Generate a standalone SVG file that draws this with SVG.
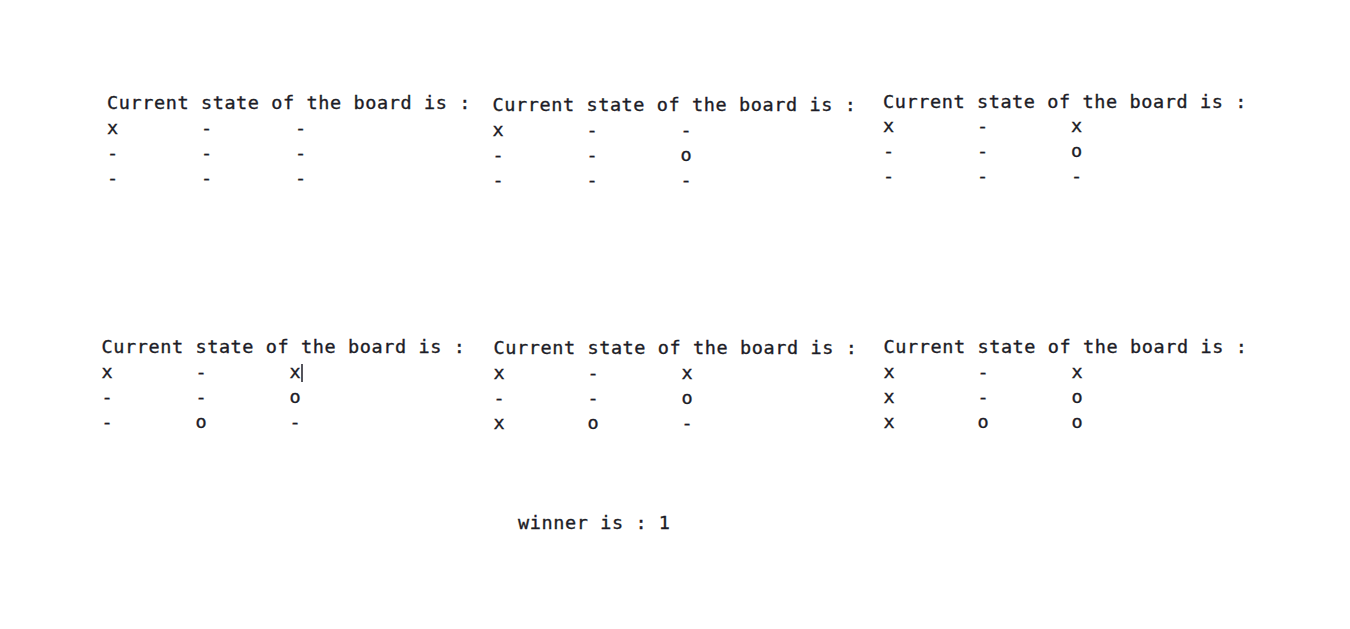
<svg xmlns="http://www.w3.org/2000/svg" width="1350" height="629" viewBox="0 0 1350 629">
<style>
text{font-family:"DejaVu Sans Mono","Liberation Mono",monospace;font-size:18.5px;letter-spacing:0.6px;fill:#1c1c26;stroke:#1c1c26;stroke-width:0.35px;}
</style>
<rect width="1350" height="629" fill="#ffffff"/>
<g id="board1">
<text x="107" y="109">Current state of the board is :</text>
<text x="107" y="134">x</text><text x="201" y="134">-</text><text x="295" y="134">-</text>
<text x="107" y="159">-</text><text x="201" y="159">-</text><text x="295" y="159">-</text>
<text x="107" y="184">-</text><text x="201" y="184">-</text><text x="295" y="184">-</text>
</g>
<g id="board2">
<text x="492.5" y="111">Current state of the board is :</text>
<text x="492.5" y="135.5">x</text><text x="586.5" y="135.5">-</text><text x="680.5" y="135.5">-</text>
<text x="492.5" y="160.5">-</text><text x="586.5" y="160.5">-</text><text x="680.5" y="160.5">o</text>
<text x="492.5" y="185.5">-</text><text x="586.5" y="185.5">-</text><text x="680.5" y="185.5">-</text>
</g>
<g id="board3">
<text x="883" y="107.5">Current state of the board is :</text>
<text x="883" y="132">x</text><text x="977" y="132">-</text><text x="1071" y="132">x</text>
<text x="883" y="157">-</text><text x="977" y="157">-</text><text x="1071" y="157">o</text>
<text x="883" y="182">-</text><text x="977" y="182">-</text><text x="1071" y="182">-</text>
</g>
<g id="board4">
<text x="101.5" y="353">Current state of the board is :</text>
<text x="101.5" y="378">x</text><text x="195.5" y="378">-</text><text x="289.5" y="378">x</text>
<text x="101.5" y="403">-</text><text x="195.5" y="403">-</text><text x="289.5" y="403">o</text>
<text x="101.5" y="428">-</text><text x="195.5" y="428">o</text><text x="289.5" y="428">-</text>
<line x1="302" y1="364" x2="302" y2="382" stroke="#1c1c26" stroke-width="1.5"/>
</g>
<g id="board5">
<text x="493.5" y="354">Current state of the board is :</text>
<text x="493.5" y="379">x</text><text x="587.5" y="379">-</text><text x="681.5" y="379">x</text>
<text x="493.5" y="404">-</text><text x="587.5" y="404">-</text><text x="681.5" y="404">o</text>
<text x="493.5" y="429">x</text><text x="587.5" y="429">o</text><text x="681.5" y="429">-</text>
</g>
<g id="board6">
<text x="883.5" y="353">Current state of the board is :</text>
<text x="883.5" y="378">x</text><text x="977.5" y="378">-</text><text x="1071.5" y="378">x</text>
<text x="883.5" y="403">x</text><text x="977.5" y="403">-</text><text x="1071.5" y="403">o</text>
<text x="883.5" y="428">x</text><text x="977.5" y="428">o</text><text x="1071.5" y="428">o</text>
</g>
<g id="winner">
<text x="518" y="528.5">winner is : 1</text>
</g>
<g id="connectors"></g>
</svg>
